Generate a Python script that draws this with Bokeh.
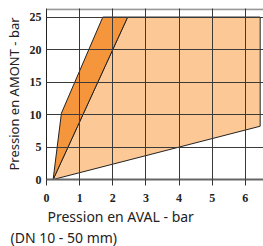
from bokeh.plotting import figure
from bokeh.models import FixedTicker, Title, Span
from bokeh.embed import file_html
from bokeh.resources import INLINE

x_ticks = [0, 1, 2, 3, 4, 5, 6]
y_ticks = [0, 5, 10, 15, 20, 25]
light_x = [0.2, 6.45, 6.45, 2.45]
light_y = [0, 8.2, 25, 25]
dark_x = [0.2, 0.45, 1.7, 2.45]
dark_y = [0, 10.2, 25, 25]
x_label = "Pression en AVAL - bar"
y_label = "Pression en AMONT - bar"
note = "(DN 10 - 50 mm)"
x_max = 6.55
y_max = 26.32

p = figure(width=263, height=246, x_range=(0, x_max), y_range=(0, y_max),
           output_backend="svg", toolbar_location=None,
           min_border_left=46, min_border_right=0, min_border_top=8, min_border_bottom=0)
p.outline_line_color = None
p.background_fill_color = "white"
p.border_fill_color = "white"

p.patch(light_x, light_y, fill_color="#FCC896", line_color="#222222", line_width=1)
p.patch(dark_x, dark_y, fill_color="#F5963C", line_color="#222222", line_width=1)

p.add_layout(Span(location=y_max - 0.1, dimension="width", line_color="#999999", line_width=2))

for g in (p.xgrid, p.ygrid):
    g.level = "overlay"
    g.grid_line_color = "#3a3a3a"
    g.grid_line_width = 1
p.xgrid.ticker = FixedTicker(ticks=x_ticks)
p.ygrid.ticker = FixedTicker(ticks=y_ticks)

xa = p.xaxis[0]
xa.ticker = FixedTicker(ticks=x_ticks)
xa.axis_line_color = "#666666"
xa.axis_line_width = 2
xa.major_tick_out = 6
xa.major_tick_in = 0
xa.major_tick_line_color = "#333333"
xa.minor_tick_line_color = None
xa.major_label_text_font = "Liberation Sans Narrow"
xa.major_label_text_font_style = "bold"
xa.major_label_text_font_size = "12px"
xa.major_label_text_color = "#222222"
xa.major_label_standoff = 8

ya = p.yaxis[0]
ya.ticker = FixedTicker(ticks=y_ticks)
ya.axis_line_color = "#222222"
ya.axis_line_width = 1
ya.major_tick_out = 0
ya.major_tick_in = 0
ya.minor_tick_line_color = None
ya.major_label_text_font = "Liberation Sans Narrow"
ya.major_label_text_font_style = "bold"
ya.major_label_text_font_size = "12px"
ya.major_label_text_color = "#222222"
ya.major_label_standoff = 5
ya.axis_label = y_label
ya.axis_label_text_font = "Noto Sans"
ya.axis_label_text_font_style = "normal"
ya.axis_label_text_font_size = "13px"
ya.axis_label_text_color = "#222222"
ya.axis_label_standoff = 4

p.add_layout(Title(text=x_label, align="left", offset=1, standoff=0,
                   text_font="Noto Sans", text_font_size="14px", text_font_style="normal",
                   text_color="#222222"), "below")
p.add_layout(Title(text=note, align="left", offset=-36, standoff=0,
                   text_font="Noto Sans", text_font_size="14px", text_font_style="normal",
                   text_color="#222222"), "below")

open("out.html", "w").write(file_html(p, INLINE))
